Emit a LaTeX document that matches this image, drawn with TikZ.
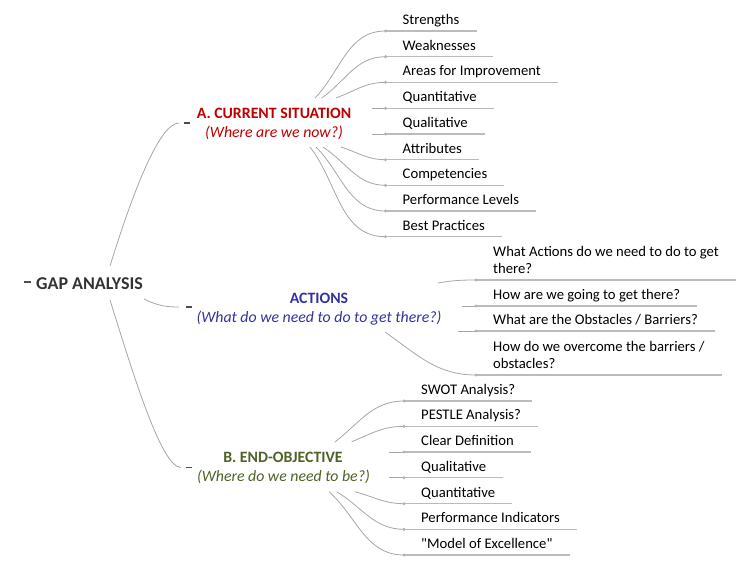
\documentclass[tikz,border=0pt]{standalone}
\usepackage{fontspec}
\setmainfont{Carlito}[Ligatures=TeXOff]
\usetikzlibrary{calc}

\definecolor{curRed}{HTML}{C00000}
\definecolor{actBlue}{HTML}{3333A0}
\definecolor{endGreen}{HTML}{4F6228}
\definecolor{linkGray}{HTML}{A6A6A6}
\definecolor{barGray}{HTML}{BBBBBB}

\tikzset{
  link/.style={draw=linkGray, line width=0.8pt},
  bar/.style={draw=barGray, line width=1.4pt},
  knob/.style={fill=gray!60},
  fold/.style={draw=black!70, line width=1.4pt},
  item/.style={anchor=south west, inner xsep=17pt, inner ysep=0pt, text height=11pt, text depth=6.5pt, font=\fontsize{14.67}{17}\selectfont},
  itemtwo/.style={anchor=south west, inner xsep=17pt, inner ysep=6.5pt, align=left, font=\fontsize{14.67}{17}\selectfont},
  head/.style={anchor=base, inner sep=0pt, font=\fontsize{15.8}{20}\selectfont\bfseries},
  ask/.style={anchor=base, inner sep=0pt, font=\fontsize{15.8}{20}\selectfont\itshape}
}

\begin{document}
\begin{tikzpicture}[x=1pt, y=-1pt]
\useasboundingbox (0,0) rectangle (750,563);

% root
\node[anchor=base west, inner sep=0pt, font=\fontsize{18}{22}\selectfont\bfseries, black!80] (gap) at (36,289) {GAP ANALYSIS};
\draw[fold] (24,282) -- (31,282);
\coordinate (gap-a) at (110,266);
\coordinate (gap-act) at (144,299);
\coordinate (gap-b) at (110,300);

% main branches
\node[head, curRed] (cur) at (274,118) {A. CURRENT SITUATION};
\node[ask, curRed] (cur-q) at (274,137.5) {(Where are we now?)};
\node[head, actBlue] (act) at (319,303.4) {ACTIONS};
\node[ask, actBlue] (act-q) at (319,322) {(What do we need to do to get there?)};
\node[head, endGreen] (end) at (283,462) {B. END-OBJECTIVE};
\node[ask, endGreen] (end-q) at (283.5,481) {(Where do we need to be?)};

\coordinate (cur-fold) at (184,123);
\coordinate (act-fold) at (186,307);
\coordinate (end-fold) at (186,467.5);
\draw[fold] (cur-fold) -- +(6,0);
\draw[fold] (act-fold) -- +(6,0);
\draw[fold] (end-fold) -- +(6,0);

\draw[link] (gap-a) .. controls +(22,-71) and +(-20,0) .. ($(cur-fold)+(-5,0)$);
\draw[link] (gap-act) .. controls +(14,7) and +(-12,0) .. ($(act-fold)+(-7,0)$);
\draw[link] (gap-b) .. controls +(22,70) and +(-20,0) .. ($(end-fold)+(-5,0)$);

% A. current situation
\node[item] (cur1) at (385.5,31) {Strengths};
\node[item] (cur2) at (385.5,56.7) {Weaknesses};
\node[item] (cur3) at (385.5,82.3) {Areas for Improvement};
\node[item] (cur4) at (385.5,108.3) {Quantitative};
\node[item] (cur5) at (385.5,134) {Qualitative};
\node[item] (cur6) at (385.5,159.7) {Attributes};
\node[item] (cur7) at (385.5,185.3) {Competencies};
\node[item] (cur8) at (385.5,211) {Performance Levels};
\node[item] (cur9) at (385.5,236.7) {Best Practices};

\coordinate (cs1) at (315,98);
\coordinate (cs2) at (321.7,98);
\coordinate (cs3) at (336,98);
\coordinate (cs4) at (371.7,108.3);
\coordinate (cs5) at (371.7,134);
\coordinate (cs6) at (341,147);
\coordinate (cs7) at (323,147);
\coordinate (cs8) at (316,147);
\coordinate (cs9) at (310,147);

\draw[link] (cs1) to[out=46,in=180] (cur1.south west);
\draw[link] (cs2) to[out=35,in=180] (cur2.south west);
\draw[link] (cs3) to[out=20,in=180] (cur3.south west);
\draw[link] (cs4) -- (cur4.south west);
\draw[link] (cs5) -- (cur5.south west);
\draw[link] (cs6) to[out=-18,in=180] (cur6.south west);
\draw[link] (cs7) to[out=-33,in=180] (cur7.south west);
\draw[link] (cs8) to[out=-45,in=180] (cur8.south west);
\draw[link] (cs9) to[out=-52,in=180] (cur9.south west);

\foreach \n in {cur1,cur2,cur3,cur4,cur5,cur6,cur7,cur8,cur9}{
  \draw[bar] (\n.south west) -- (\n.south east);
  \fill[knob] (\n.south west) circle[radius=1.7pt];
}

% actions
\node[itemtwo] (act1) at (476,280) {What Actions do we need to do to get\\there?};
\node[item] (act2) at (476,306) {How are we going to get there?};
\node[item] (act3) at (476,331) {What are the Obstacles / Barriers?};
\node[itemtwo] (act4) at (476,375) {How do we overcome the barriers /\\obstacles?};

\coordinate (as1) at (438,283);
\coordinate (as2) at (462,306);
\coordinate (as3) at (458,331);
\coordinate (as4) at (385,332);

\draw[link] (as1) to[out=10,in=180] (act1.south west);
\draw[link] (as2) -- (act2.south west);
\draw[link] (as3) -- (act3.south west);
\draw[link] (as4) to[out=-35,in=180] (act4.south west);

\foreach \n in {act1,act2,act3,act4}{
  \draw[bar] (\n.south west) -- (\n.south east);
  \fill[knob] (\n.south west) circle[radius=1.7pt];
}

% B. end-objective
\node[item] (end1) at (404,401) {SWOT Analysis?};
\node[item] (end2) at (404,426.3) {PESTLE Analysis?};
\node[item] (end3) at (404,452) {Clear Definition};
\node[item] (end4) at (404,477.7) {Qualitative};
\node[item] (end5) at (404,503.7) {Quantitative};
\node[item] (end6) at (404,529.3) {Performance Indicators};
\node[item] (end7) at (404,555) {"Model of Excellence"};

\coordinate (es1) at (335,442);
\coordinate (es2) at (351.7,441.7);
\coordinate (es3) at (389,452);
\coordinate (es4) at (389,477.7);
\coordinate (es5) at (355,491.7);
\coordinate (es6) at (336.7,491.7);
\coordinate (es7) at (329,491.7);

\draw[link] (es1) to[out=38,in=180] (end1.south west);
\draw[link] (es2) to[out=22,in=180] (end2.south west);
\draw[link] (es3) -- (end3.south west);
\draw[link] (es4) -- (end4.south west);
\draw[link] (es5) to[out=-15,in=180] (end5.south west);
\draw[link] (es6) to[out=-31,in=180] (end6.south west);
\draw[link] (es7) to[out=-42,in=180] (end7.south west);

\foreach \n in {end1,end2,end3,end4,end5,end6,end7}{
  \draw[bar] (\n.south west) -- (\n.south east);
  \fill[knob] (\n.south west) circle[radius=1.7pt];
}
\end{tikzpicture}
\end{document}
